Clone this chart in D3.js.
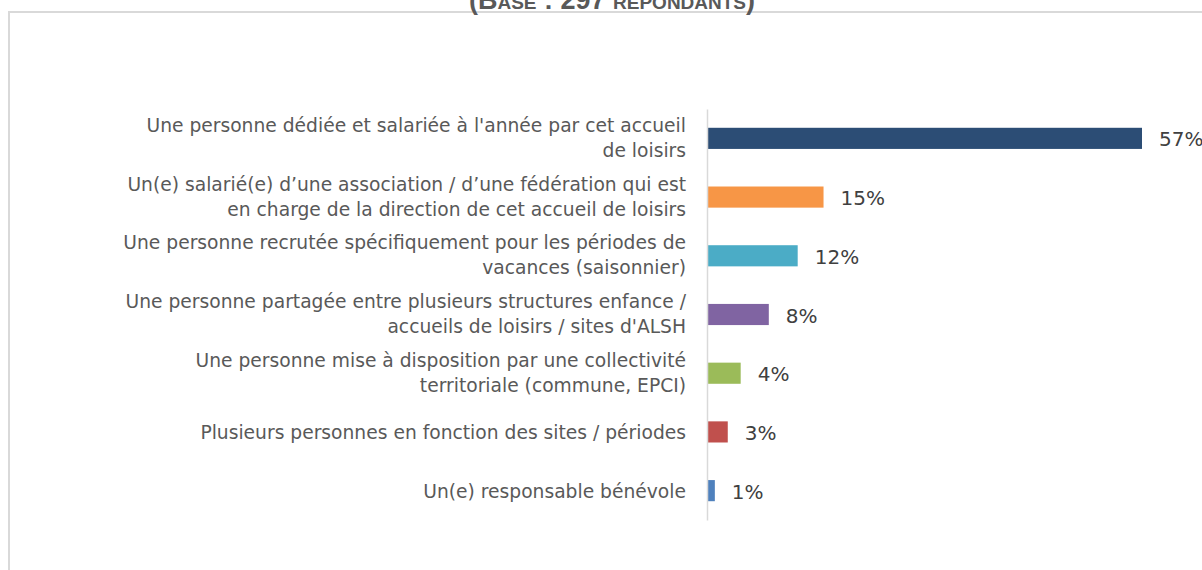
<!DOCTYPE html>
<html>
<head>
<meta charset="utf-8">
<script src="https://cdn.jsdelivr.net/npm/d3@7"></script>
<style>
  html, body { margin: 0; padding: 0; background: #ffffff; }
  svg { display: block; }
</style>
</head>
<body>
<svg id="chart" width="1202" height="570"></svg>
<script>
const titleText = "(Base : 297 répondants)";
const categories = [
  ["Une personne dédiée et salariée à l'année par cet accueil", "de loisirs"],
  ["Un(e) salarié(e) d’une association / d’une fédération qui est", "en charge de la direction de cet accueil de loisirs"],
  ["Une personne recrutée spécifiquement pour les périodes de", "vacances (saisonnier)"],
  ["Une personne partagée entre plusieurs structures enfance /", "accueils de loisirs / sites d'ALSH"],
  ["Une personne mise à disposition par une collectivité", "territoriale (commune, EPCI)"],
  ["Plusieurs personnes en fonction des sites / périodes"],
  ["Un(e) responsable bénévole"]
];
const values = [57.1, 15.2, 11.8, 8.0, 4.3, 2.6, 0.9];
const valueLabels = ["57%", "15%", "12%", "8%", "4%", "3%", "1%"];
const colors = ["#2c4d75", "#f79646", "#4bacc6", "#8064a2", "#9bbb59", "#c0504d", "#4f81bd"];

const svg = d3.select("#chart");
const keys = categories.map((c, i) => i);

// frame
svg.append("rect")
  .attr("x", 9).attr("y", 12)
  .attr("width", 1300).attr("height", 700)
  .attr("fill", "none")
  .attr("stroke", "#d9d9d9")
  .attr("stroke-width", 2);

// title (cut off at top, as in the reference)
svg.append("text")
  .attr("x", 612).attr("y", 9)
  .attr("text-anchor", "middle")
  .attr("font-family", "'Liberation Sans', Arial, sans-serif")
  .attr("font-weight", "bold")
  .attr("font-size", 27)
  .attr("font-variant", "small-caps")
  .attr("fill", "#595959")
  .text(titleText);

const x = d3.scaleLinear().domain([0, 57.1]).range([708, 1142]);
const y = d3.scaleBand().domain(keys).range([109, 520]).paddingInner(0.64).paddingOuter(0.32);

// bars
svg.append("g").selectAll("rect")
  .data(keys)
  .join("rect")
  .attr("x", x(0))
  .attr("y", d => y(d))
  .attr("width", d => x(values[d]) - x(0))
  .attr("height", y.bandwidth())
  .attr("fill", d => colors[d]);

// axis line
const axis = d3.axisLeft(y).tickSize(0).tickFormat("");
const ag = svg.append("g").attr("transform", `translate(707,0)`).call(axis);
ag.select(".domain").attr("stroke", "#d9d9d9").attr("stroke-width", 1.5);

// category labels
const lab = svg.append("g")
  .attr("font-family", "'DejaVu Sans', sans-serif")
  .attr("font-size", 18.7)
  .attr("fill", "#595959")
  .attr("text-anchor", "end");
keys.forEach(k => {
  const c = y(k) + y.bandwidth() / 2;
  const lines = categories[k];
  const t = lab.append("text");
  if (lines.length === 1) {
    t.append("tspan").attr("x", 686).attr("y", c + 7).text(lines[0]);
  } else {
    t.append("tspan").attr("x", 686).attr("y", c - 6.5).text(lines[0]);
    t.append("tspan").attr("x", 686).attr("y", c + 18.5).text(lines[1]);
  }
});

// value labels
svg.append("g")
  .attr("font-family", "'DejaVu Sans', sans-serif")
  .attr("font-size", 20)
  .attr("fill", "#404040")
  .selectAll("text")
  .data(keys)
  .join("text")
  .attr("x", d => x(values[d]) + 17)
  .attr("y", d => y(d) + y.bandwidth() / 2 + 8)
  .text(d => valueLabels[d]);
</script>
</body>
</html>
